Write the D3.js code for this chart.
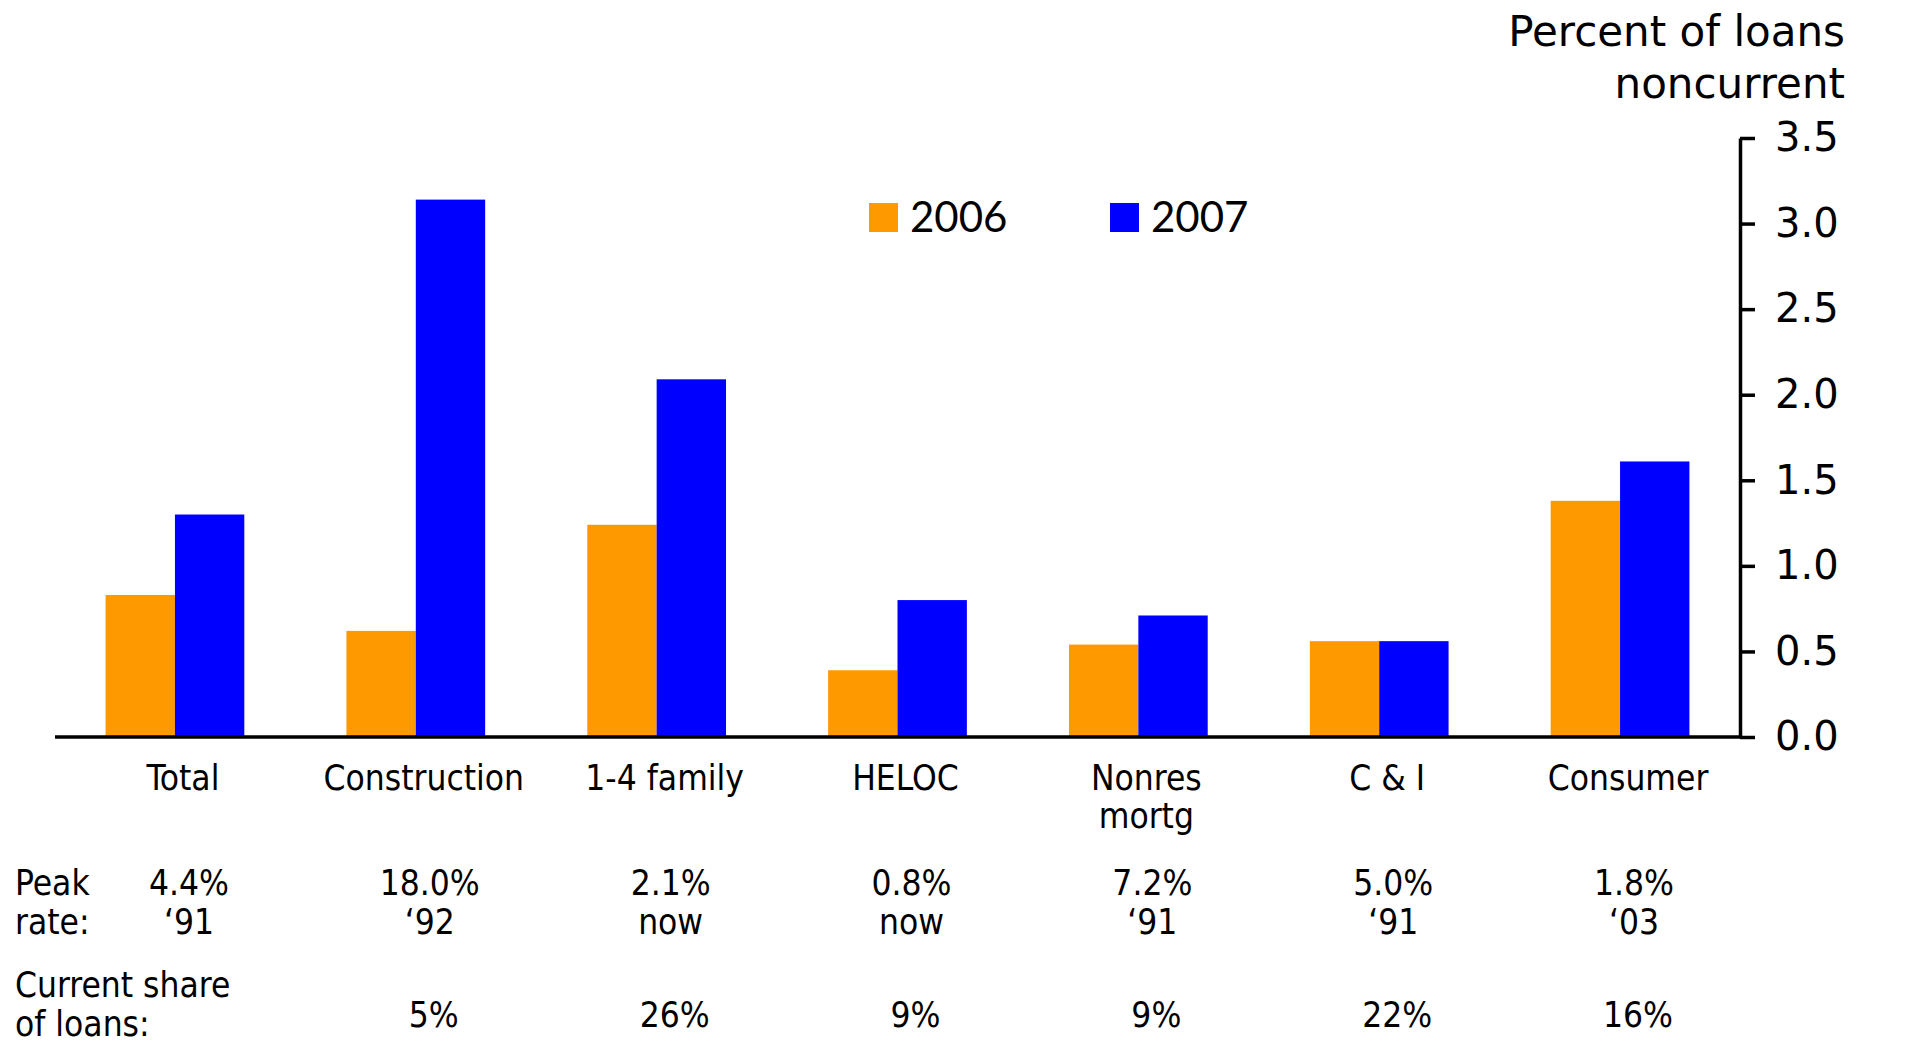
<!DOCTYPE html>
<html lang="en">
<head>
    <meta charset="UTF-8">
    <script src="https://d3js.org/d3.v7.min.js"></script>
    <title>Noncurrent loans</title>
    <style>
        body { margin: 0; background: #fff; }
        .narrow { font-family: "Liberation Sans Narrow", "DejaVu Sans Condensed", "Roboto", sans-serif; }
    </style>
</head>
<body>
    <div id="graph-div"></div>
    <script>
        // data
        const categories = ["Total", "Construction", "1-4 family", "HELOC", "Nonres\nmortg", "C & I", "Consumer"];
        const values2006 = [0.83, 0.62, 1.24, 0.39, 0.54, 0.56, 1.38];
        const values2007 = [1.30, 3.14, 2.09, 0.80, 0.71, 0.56, 1.61];
        const peakRates = ["4.4%", "18.0%", "2.1%", "0.8%", "7.2%", "5.0%", "1.8%"];
        const peakWhen = ["\u201891", "\u201892", "now", "now", "\u201891", "\u201891", "\u201803"];
        const shares = ["", "5%", "26%", "9%", "9%", "22%", "16%"];
        const seriesNames = ["2006", "2007"];
        const seriesColors = ["#FF9900", "#0000FF"];
        const yTicks = [0, 0.5, 1.0, 1.5, 2.0, 2.5, 3.0, 3.5];

        const w = 1921, h = 1044;
        const padLeft = 55, axisX = 1740, plotTop = 138, plotBase = 737;

        const svg = d3.select("#graph-div")
                      .append("svg")
                      .attr("width", w)
                      .attr("height", h);

        //scales
        const xScale = d3.scaleBand()
                         .domain(categories)
                         .range([padLeft, axisX])
                         .paddingInner(0.424)
                         .paddingOuter(0.21);

        const xInner = d3.scaleBand()
                         .domain(seriesNames)
                         .range([0, xScale.bandwidth()]);

        const yScale = d3.scaleLinear()
                         .domain([0, 3.5])
                         .range([plotBase, plotTop]);

        const rows = categories.map((c, i) => ({cat: c, vals: [values2006[i], values2007[i]]}));

        //bars
        const groups = svg.selectAll("g.group")
           .data(rows)
           .enter()
           .append("g")
           .attr("class", "group")
           .attr("transform", d => "translate(" + xScale(d.cat) + ",0)");

        groups.selectAll("rect")
           .data(d => d.vals.map((v, j) => ({name: seriesNames[j], v: v, color: seriesColors[j]})))
           .enter()
           .append("rect")
           .attr("x", d => xInner(d.name))
           .attr("y", d => yScale(d.v))
           .attr("width", xInner.bandwidth())
           .attr("height", d => yScale(0) - yScale(d.v))
           .attr("fill", d => d.color);

        //baseline
        svg.append("line")
           .attr("x1", padLeft)
           .attr("x2", axisX)
           .attr("y1", yScale(0))
           .attr("y2", yScale(0))
           .attr("stroke", "#000")
           .attr("stroke-width", 3.5);

        //right axis
        const yAxis = d3.axisRight(yScale)
                        .tickValues(yTicks)
                        .tickFormat(d3.format(".1f"))
                        .tickSize(15)
                        .tickSizeOuter(0)
                        .tickPadding(20);

        const ya = svg.append("g")
           .attr("transform", "translate(" + axisX + ",0)")
           .call(yAxis);
        ya.selectAll("path, line").attr("stroke", "#000").attr("stroke-width", 3.5);
        ya.selectAll("text")
          .style("font-family", "'DejaVu Sans', sans-serif")
          .style("font-size", "40px")
          .attr("fill", "#000");

        svg.append("text")
           .text("Percent of loans")
           .attr("x", 1845)
           .attr("y", 46)
           .attr("text-anchor", "end")
           .style("font-family", "'DejaVu Sans', sans-serif")
           .style("font-size", "42px");
        svg.append("text")
           .text("noncurrent")
           .attr("x", 1845)
           .attr("y", 98)
           .attr("text-anchor", "end")
           .style("font-family", "'DejaVu Sans', sans-serif")
           .style("font-size", "42px");

        //legend
        const legX = [869, 1110];
        seriesNames.forEach((s, i) => {
            svg.append("rect")
               .attr("x", legX[i]).attr("y", 203)
               .attr("width", 29).attr("height", 29)
               .attr("fill", seriesColors[i]);
            svg.append("text")
               .text(s)
               .attr("x", legX[i] + 41)
               .attr("y", 232)
               .style("font-family", "Lato, sans-serif")
               .style("font-size", "42px");
        });

        //category labels
        const cx = c => xScale(c) + xScale.bandwidth() / 2 + 8;
        categories.forEach(c => {
            const t = svg.append("text")
               .attr("class", "narrow")
               .attr("text-anchor", "middle")
               .style("font-size", "35px");
            c.split("\n").forEach((line, k) => {
                t.append("tspan").attr("x", cx(c)).attr("y", 790 + k * 38).text(line);
            });
        });

        //peak rate rows
        const addText = (txt, x, y, anchor) => svg.append("text")
            .attr("class", "narrow")
            .attr("x", x).attr("y", y)
            .attr("text-anchor", anchor)
            .style("font-size", "35px")
            .text(txt);

        addText("Peak", 15, 895, "start");
        addText("rate:", 15, 934, "start");
        addText("Current share", 15, 997, "start");
        addText("of loans:", 15, 1036, "start");

        categories.forEach((c, i) => {
            addText(peakRates[i], cx(c) + 6, 895, "middle");
            addText(peakWhen[i], cx(c) + 6, 934, "middle");
            if (shares[i]) addText(shares[i], cx(c) + 10, 1027, "middle");
        });
    </script>
</body>
</html>
